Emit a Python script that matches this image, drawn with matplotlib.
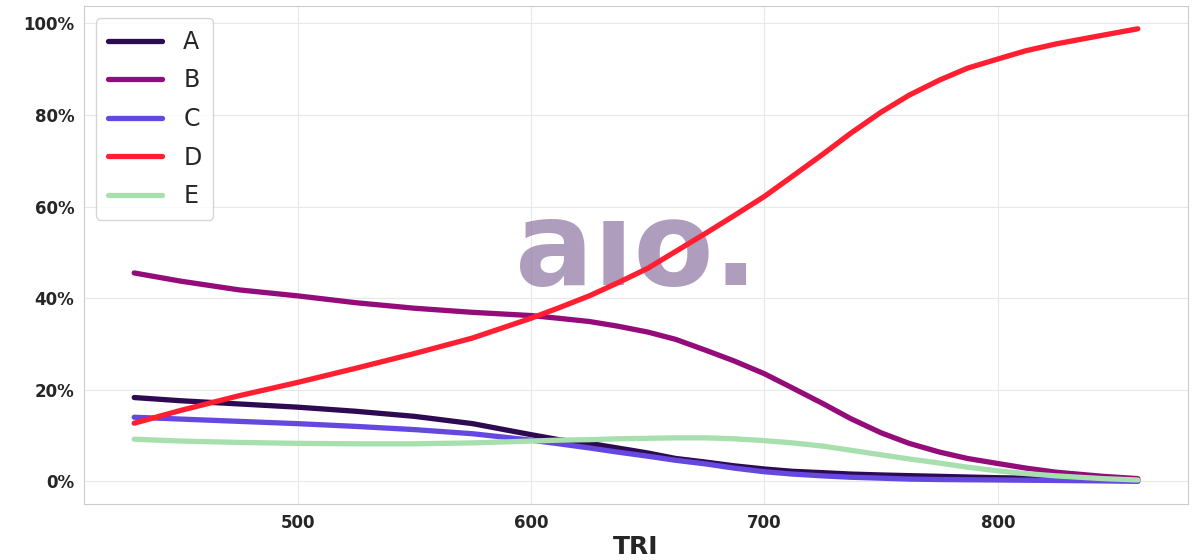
import matplotlib
matplotlib.use('Agg')
import matplotlib.pyplot as plt
from matplotlib.ticker import PercentFormatter
import seaborn as sns

sns.set_style('whitegrid')

tri = [430, 450, 475, 500, 525, 550, 575, 600, 612, 625, 637, 650, 662, 675, 687, 700,
       712, 725, 737, 750, 762, 775, 787, 800, 812, 825, 845, 860]

a_vals = [18.3, 17.6, 16.9, 16.2, 15.3, 14.2, 12.6, 10.2, 9.1, 8.3, 7.3, 6.2, 5.0, 4.2, 3.4, 2.7,
          2.2, 1.9, 1.6, 1.4, 1.25, 1.1, 0.95, 0.8, 0.7, 0.6, 0.4, 0.3]
b_vals = [45.5, 43.7, 41.8, 40.5, 39.0, 37.8, 36.9, 36.2, 35.6, 34.9, 33.9, 32.6, 31.0, 28.6, 26.3, 23.5,
          20.4, 17.0, 13.7, 10.6, 8.3, 6.4, 5.0, 3.9, 2.9, 2.0, 1.1, 0.6]
c_vals = [14.0, 13.6, 13.1, 12.6, 12.0, 11.3, 10.4, 9.0, 8.2, 7.3, 6.4, 5.5, 4.6, 3.8, 2.9, 2.1,
          1.6, 1.2, 0.9, 0.7, 0.5, 0.4, 0.35, 0.3, 0.25, 0.2, 0.1, 0.0]
d_vals = [12.7, 15.5, 18.7, 21.6, 24.7, 27.9, 31.3, 35.6, 37.9, 40.5, 43.3, 46.5, 50.2, 54.2, 58.0, 62.2,
          66.6, 71.4, 76.0, 80.6, 84.3, 87.6, 90.2, 92.2, 94.0, 95.5, 97.4, 98.8]
e_vals = [9.2, 8.8, 8.5, 8.3, 8.2, 8.2, 8.4, 8.8, 9.0, 9.1, 9.3, 9.4, 9.5, 9.5, 9.3, 8.9,
          8.4, 7.7, 6.8, 5.8, 4.9, 4.0, 3.1, 2.3, 1.7, 1.2, 0.6, 0.3]

labels = ['A', 'B', 'C', 'D', 'E']
colors = ['#2e0a52', '#930c7a', '#6448e0', '#ff1f31', '#a8dfae']

fig = plt.figure(figsize=(12, 5.6), dpi=100)
ax = fig.add_axes([0.07, 0.1, 0.92, 0.889])

series = [a_vals, b_vals, c_vals, d_vals, e_vals]
for vals, lab, col in zip(series, labels, colors):
    ax.plot(tri, [v / 100 for v in vals], color=col, lw=3.8, label=lab,
            solid_capstyle='round', solid_joinstyle='round')

# watermark
ax.text(0.5, 0.505, 'a\u0131o.', transform=ax.transAxes, ha='center', va='center',
        fontsize=84, fontweight='bold', color='#8a6f9e', alpha=0.68, zorder=1.5)

ax.yaxis.set_major_formatter(PercentFormatter(1.0, decimals=0))
ax.set_xticks([500, 600, 700, 800])
for t in ax.get_xticklabels() + ax.get_yticklabels():
    t.set_fontweight('bold')
    t.set_fontsize(12)
ax.set_xlabel('TRI', fontsize=18, fontweight='bold', labelpad=2)

for s in ax.spines.values():
    s.set_color('#cccccc')
ax.grid(color='#e8e8e8')

leg = ax.legend(loc='upper left', fontsize=17, handlelength=2.3, labelspacing=0.62,
                handletextpad=0.9, borderpad=0.5)

fig.savefig('out.png', dpi=100)
